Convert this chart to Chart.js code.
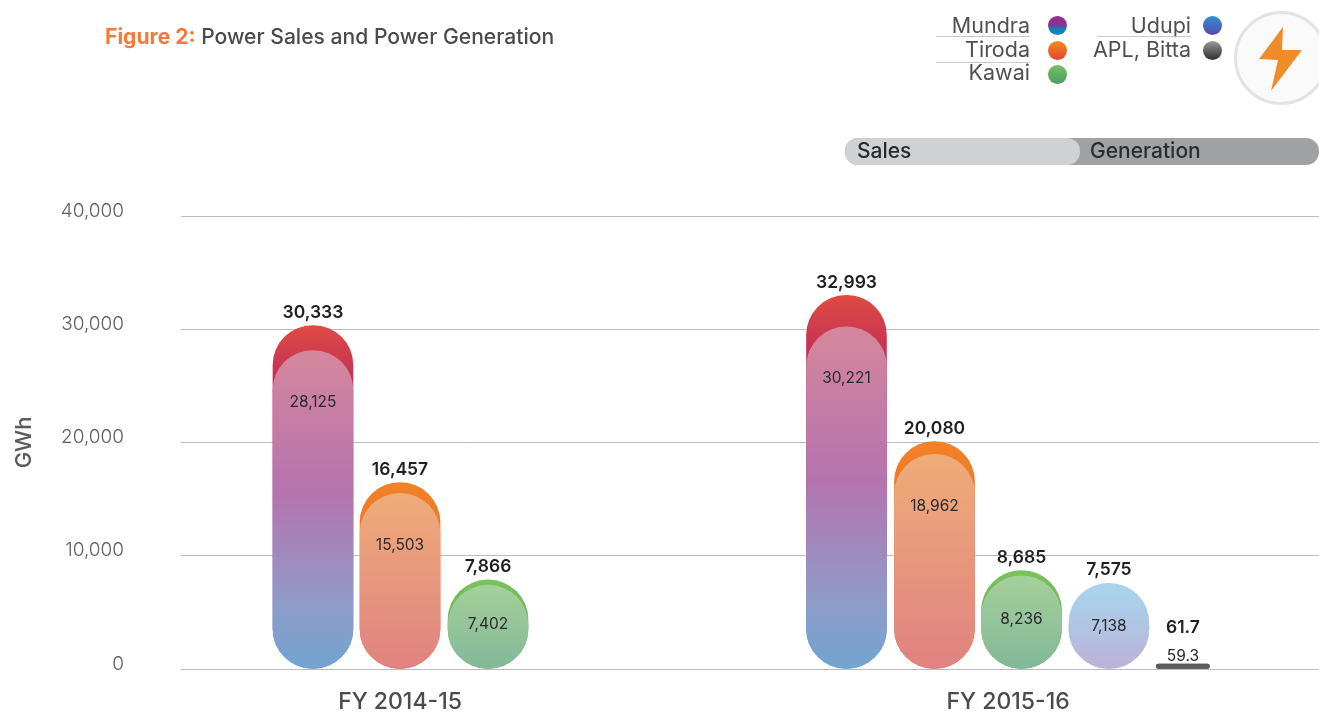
<!DOCTYPE html>
<html>
<head>
<meta charset="utf-8">
<script src="https://cdn.jsdelivr.net/npm/chart.js@4"></script>
<style>
html,body{margin:0;padding:0;background:#fff;overflow:hidden}
body{width:1319px;height:712px;position:relative;font-family:Inter,sans-serif}
canvas{position:absolute;left:0;top:0}
.t{position:absolute;white-space:nowrap;line-height:1;color:#4f5052}
.r{text-align:right}
.dot{position:absolute;width:19px;height:19px;border-radius:50%}
.sep{position:absolute;height:1px;width:94px;background:#c9c9c9}
</style>
</head>
<body>
<canvas id="c" width="1319" height="712"></canvas>

<div class="t" style="left:105px;top:26px;font-size:21.1px;font-weight:500;color:#4a4b4d"><b style="color:#f47a3a;font-weight:700">Figure 2:</b> Power Sales and Power Generation</div>

<div class="t r" style="right:289px;top:15px;font-size:21.5px">Mundra</div>
<div class="t r" style="right:289px;top:39px;font-size:21.5px">Tiroda</div>
<div class="t r" style="right:289px;top:62px;font-size:21.5px">Kawai</div>
<div class="t r" style="right:128px;top:15px;font-size:21.5px">Udupi</div>
<div class="t r" style="right:128px;top:39px;font-size:21.5px">APL, Bitta</div>
<div class="sep" style="left:936px;top:36px"></div>
<div class="sep" style="left:936px;top:62px"></div>
<div class="sep" style="left:1097px;top:36px"></div>
<div class="dot" style="left:1048px;top:16px;background:linear-gradient(#a2268c,#7c3a96 50%,#0a86b8 70%)"></div>
<div class="dot" style="left:1048px;top:41px;background:linear-gradient(#f58a1f,#e2452f)"></div>
<div class="dot" style="left:1048px;top:65px;background:linear-gradient(#76c05a,#4f9c6c)"></div>
<div class="dot" style="left:1203px;top:16px;background:linear-gradient(#2f8fd6,#5a4ba8)"></div>
<div class="dot" style="left:1203px;top:41px;background:linear-gradient(#98999c,#2e2e30)"></div>

<svg style="position:absolute;left:1230px;top:8px" width="89" height="100">
  <circle cx="51" cy="50" r="45.5" fill="#fafafa" stroke="#e3e3e3" stroke-width="3"/>
  <path d="M53 19 L29 51 L48 52 L41 83 L72 42 L52 42 Z" fill="#ee8c28"/>
</svg>

<div style="position:absolute;left:845px;top:138px;width:474px;height:27px;background:#a0a1a5;border-radius:13px"></div>
<div style="position:absolute;left:845px;top:138px;width:235px;height:27px;background:#d0d1d3;border-radius:13px"></div>
<div class="t" style="left:857px;top:140px;font-size:21px;font-weight:500;color:#2b2b2d">Sales</div>
<div class="t" style="left:1090px;top:140px;font-size:21px;font-weight:500;color:#2b2b2d">Generation</div>

<script>
const categories = ["FY 2014-15", "FY 2015-16"];
const yTicks = [0, 10000, 20000, 30000, 40000];

const mundraGeneration = [30333, 32993];
const mundraSales      = [28125, 30221];
const tirodaGeneration = [16457, 20080];
const tirodaSales      = [15503, 18962];
const kawaiGeneration  = [7866, 8685];
const kawaiSales       = [7402, 8236];
const udupiGeneration  = [null, 7575];
const udupiSales       = [null, 7138];
const aplGeneration    = [null, 61.7];
const aplSales         = [null, 59.3];

/* horizontal slots on the x scale, one per category */
const mundraSlots = [1.504, 7.584];
const tirodaSlots = [2.496, 8.587];
const kawaiSlots  = [3.499, 9.579];
const udupiSlots  = [null, 10.575];
const aplSlots    = [null, 11.418];
const categorySlots = [2.496, 9.426];
const slotMax = 12.969;

function vgrad(stops){
  return function(ctx){
    if(ctx.type!=='data') return stops[0][1];
    const sc=ctx.chart.scales.y, v=ctx.raw && ctx.raw.y;
    if(v==null || !sc) return stops[0][1];
    const a=sc.getPixelForValue(v), b=sc.getPixelForValue(0);
    if(!isFinite(a) || !isFinite(b)) return stops[0][1];
    const g=ctx.chart.ctx.createLinearGradient(0,a,0,b);
    stops.forEach(s=>g.addColorStop(s[0],s[1]));
    return g;
  };
}
function pts(slots,vals){
  return slots.map((x,i)=>vals[i]==null?null:{x:x,y:vals[i]}).filter(Boolean);
}
function pair(name,slots,gen,sal,genStops,salStops,extra){
  return [
    Object.assign({label:name+" Sales",kind:'s',order:0,data:pts(slots,sal),backgroundColor:vgrad(salStops)},extra),
    Object.assign({label:name+" Generation",kind:'g',order:1,data:pts(slots,gen),backgroundColor:vgrad(genStops)},extra)
  ];
}
const full={barThickness:80,borderRadius:40,borderSkipped:false,borderWidth:0,grouped:false};
const datasets=[].concat(
  pair("Mundra",mundraSlots,mundraGeneration,mundraSales,
    [[0,'#df4a42'],[0.16,'#c23058'],[0.5,'#9a3f98'],[1,'#6fa2d0']],
    [[0,'#d5879c'],[0.45,'#b573ae'],[0.8,'#8f9cc8'],[1,'#72a4d0']],full),
  pair("Tiroda",tirodaSlots,tirodaGeneration,tirodaSales,
    [[0,'#f38227'],[1,'#e0502f']],[[0,'#efac78'],[1,'#e08282']],full),
  pair("Kawai",kawaiSlots,kawaiGeneration,kawaiSales,
    [[0,'#79c25b'],[1,'#5fa35c']],[[0,'#a6d09a'],[1,'#82b898']],full),
  pair("Udupi",udupiSlots,udupiGeneration,udupiSales,
    [[0,'#a8d4ec'],[1,'#bcb2d8']],[[0,'#a8d4ec'],[1,'#bcb2d8']],full),
  pair("APL, Bitta",aplSlots,aplGeneration,aplSales,
    [[0,'#5a5b5d'],[1,'#5a5b5d']],[[0,'#5a5b5d'],[1,'#5a5b5d']],
    {barThickness:53,borderRadius:2.5,borderSkipped:false,borderWidth:0,grouped:false,minBarLength:5})
);

const valueLabels={
  id:'valueLabels',
  afterDatasetsDraw(chart){
    const c=chart.ctx, y0=chart.scales.y.getPixelForValue(0);
    c.save();c.textAlign='center';c.textBaseline='middle';
    chart.data.datasets.forEach((ds,di)=>{
      const meta=chart.getDatasetMeta(di);
      ds.data.forEach((p,i)=>{
        const bar=meta.data[i], top=chart.scales.y.getPixelForValue(p.y), h=y0-top, tiny=h<5;
        const txt=p.y.toLocaleString('en-US');
        let y;
        if(ds.kind==='g'){
          c.font='600 17.5px Inter, sans-serif';c.fillStyle='#1f2023';
          y=tiny?top-41:top-13;
        }else{
          c.font='400 15.5px Inter, sans-serif';c.fillStyle='#2a2a30';
          y=tiny?top-12:top+Math.min(52,h*0.47);
        }
        c.fillText(txt,bar.x,y);
      });
    });
    c.restore();
  }
};

new Chart(document.getElementById('c'),{
  type:'bar',
  data:{datasets},
  plugins:[valueLabels],
  options:{
    responsive:false,animation:false,
    layout:{padding:{top:216,left:0,right:0,bottom:0}},
    plugins:{legend:{display:false},tooltip:{enabled:false},title:{display:false}},
    scales:{
      x:{type:'linear',offset:false,min:0,max:slotMax,
        grid:{display:false,drawTicks:false},border:{display:false},
        afterBuildTicks(s){s.ticks=categorySlots.map(v=>({value:v}));},
        afterFit(s){s.height=43;},
        ticks:{autoSkip:false,maxRotation:0,padding:19,color:'#4a4b4d',font:{family:'Inter, sans-serif',size:23,weight:'500'},
          callback(v){return categories[categorySlots.indexOf(v)];}}
      },
      y:{min:0,max:40000,
        afterBuildTicks(s){s.ticks=yTicks.map(v=>({value:v}));},
        afterFit(s){s.width=181;},
        grid:{color:'#bcbcbc',lineWidth:1,drawTicks:true,tickLength:57,tickColor:'transparent'},border:{display:false},
        title:{display:true,text:'GWh',color:'#5a5b5d',font:{family:'Inter, sans-serif',size:22,weight:'500'},padding:{top:11,bottom:0}},
        ticks:{padding:0,labelOffset:-5,color:'#5f6062',font:{family:'Inter, sans-serif',size:19,weight:'300'},
          callback(v){return v.toLocaleString('en-US');}}
      }
    }
  }
});
</script>
</body>
</html>
